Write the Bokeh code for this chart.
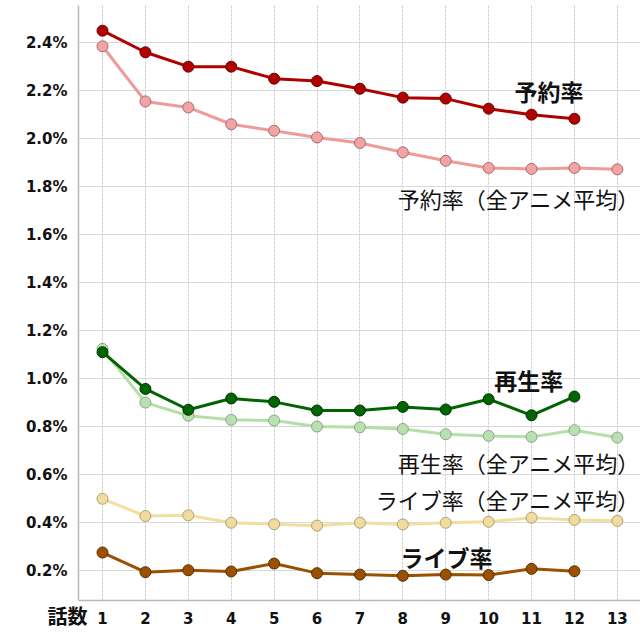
from bokeh.plotting import figure
from bokeh.models import Range1d, FixedTicker, PrintfTickFormatter, Title
from bokeh.core.properties import value
from bokeh.embed import file_html
from bokeh.resources import INLINE

episodes13 = list(range(1, 14))
episodes12 = list(range(1, 13))

reserve = [2.45, 2.36, 2.30, 2.30, 2.25, 2.24, 2.208, 2.171, 2.167, 2.125, 2.10, 2.083]
reserve_avg = [2.385, 2.155, 2.13, 2.06, 2.033, 2.005, 1.982, 1.943, 1.908, 1.878, 1.874, 1.878, 1.872]
play = [1.110, 0.957, 0.870, 0.917, 0.903, 0.867, 0.867, 0.882, 0.871, 0.914, 0.847, 0.925]
play_avg = [1.124, 0.900, 0.845, 0.828, 0.825, 0.800, 0.797, 0.790, 0.768, 0.761, 0.757, 0.785, 0.754]
live_avg = [0.499, 0.427, 0.430, 0.399, 0.393, 0.387, 0.399, 0.392, 0.399, 0.403, 0.420, 0.411, 0.407]
live = [0.275, 0.193, 0.201, 0.196, 0.229, 0.189, 0.183, 0.178, 0.183, 0.181, 0.207, 0.197]

y_ticks = [0.2, 0.4, 0.6, 0.8, 1.0, 1.2, 1.4, 1.6, 1.8, 2.0, 2.2, 2.4]
x_title = "話数"

JP = "Noto Sans CJK JP"

p = figure(width=640, height=640, output_backend="svg", toolbar_location=None,
           x_range=Range1d(0.44, 13.54), y_range=Range1d(0.075, 2.555),
           min_border_left=78, min_border_right=0, min_border_top=5, min_border_bottom=40)
p.outline_line_color = None
p.background_fill_color = "white"
p.border_fill_color = "white"

for ax in (p.xaxis[0], p.yaxis[0]):
    ax.axis_line_color = "#b8b8b8"
    ax.axis_line_width = 1.5
    ax.major_tick_line_color = None
    ax.minor_tick_line_color = None
    ax.major_label_text_font = "DejaVu Sans"
    ax.major_label_text_font_style = "bold"
    ax.major_label_text_font_size = "15px"
    ax.major_label_text_color = "#111111"

p.xaxis.ticker = FixedTicker(ticks=episodes13)
p.xaxis.major_label_standoff = 5
p.yaxis.ticker = FixedTicker(ticks=y_ticks)
p.yaxis.formatter = PrintfTickFormatter(format="%.1f%%")
p.yaxis.major_label_standoff = 5

p.xgrid.grid_line_color = "#d0d0d0"
p.xgrid.grid_line_dash = "3 1"
p.ygrid.grid_line_color = "#d8d8d8"
p.xgrid.grid_line_width = 1
p.ygrid.grid_line_width = 1.2

def series(xs, ys, line_color, fill_color, edge_color, width=3):
    p.line(xs, ys, line_color=line_color, line_width=width)
    p.scatter(xs, ys, size=11, fill_color=fill_color, line_color=edge_color, line_width=1)

series(episodes13, reserve_avg, "#f09a9a", "#f2a4a4", "#a86a6a")
series(episodes12, reserve, "#b00000", "#b00000", "#6a0000")
series(episodes13, play_avg, "#b4e0a8", "#b8e0b0", "#88a888")
series(episodes12, play, "#006400", "#006400", "#003300")
series(episodes13, live_avg, "#f0e0a0", "#f0dca0", "#b0a070")
series(episodes12, live, "#9a5000", "#9a5000", "#5a2e00")

labels_bold = [("予約率", 12.21, 2.20), ("再生率", 11.74, 0.996), ("ライブ率", 10.09, 0.258)]
labels_norm = [("予約率（全アニメ平均）", 13.52, 1.754),
               ("再生率（全アニメ平均）", 13.52, 0.654),
               ("ライブ率（全アニメ平均）", 13.52, 0.496)]

p.text(x=[l[1] for l in labels_bold], y=[l[2] for l in labels_bold], text=[l[0] for l in labels_bold],
       text_font=value(JP), text_font_style="bold", text_font_size="23px",
       text_align="right", text_baseline="middle", text_color="#111111")
p.text(x=[l[1] for l in labels_norm], y=[l[2] for l in labels_norm], text=[l[0] for l in labels_norm],
       text_font=value(JP), text_font_size="22px",
       text_align="right", text_baseline="middle", text_color="#111111")

p.add_layout(Title(text=x_title, align="left", offset=-31, standoff=-51, vertical_align="top",
                   text_font=JP, text_font_style="bold", text_font_size="20px",
                   text_color="#111111"), "below")

open("out.html", "w").write(file_html(p, INLINE))
